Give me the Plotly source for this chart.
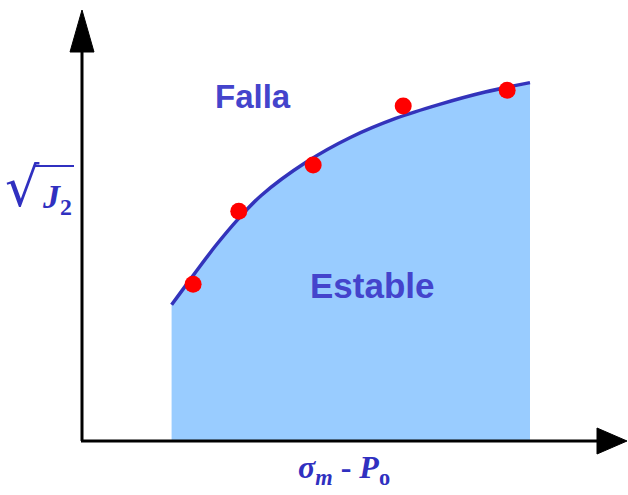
import plotly.graph_objects as go

# Failure envelope: sqrt(J2) against effective mean stress (sigma_m - Po)
envelope_x = [2.0, 2.5, 3.0, 3.5, 4.0, 5.0, 6.0, 7.0, 8.0, 9.0, 10.0]
envelope_y = [3.04, 3.72, 4.38, 4.97, 5.48, 6.22, 6.78, 7.20, 7.52, 7.79, 8.00]

# Measured test points
test_x = [2.48, 3.50, 5.16, 7.17, 9.49]
test_y = [3.50, 5.13, 6.16, 7.48, 7.83]

W, H = 628, 495
# Pixel position of the origin and pixels per data unit
ORIGIN_PX, ORIGIN_PY, SCALE = 82, 441, 44.8

x_range = [-ORIGIN_PX / SCALE, (W - ORIGIN_PX) / SCALE]
y_range = [-(H - ORIGIN_PY) / SCALE, ORIGIN_PY / SCALE]


def px(v):
    return v / W


def py(v):
    return 1 - v / H


LABEL_BLUE = "#4444CC"
MATH_BLUE = "#3030C0"

fig = go.Figure()

fig.add_trace(go.Scatter(
    x=envelope_x, y=envelope_y,
    mode="lines",
    line=dict(color="#3333BB", width=3.5, shape="spline", smoothing=1.0),
    fill="tozeroy",
    fillcolor="#99CCFF",
    hoverinfo="skip",
    showlegend=False,
))

fig.add_trace(go.Scatter(
    x=test_x, y=test_y,
    mode="markers",
    marker=dict(color="#FF0000", size=17, line=dict(width=0)),
    showlegend=False,
))

shapes = [
    # axis lines
    dict(type="line", xref="paper", yref="paper",
         x0=px(ORIGIN_PX), y0=py(ORIGIN_PY), x1=px(ORIGIN_PX), y1=py(48),
         line=dict(color="black", width=3)),
    dict(type="line", xref="paper", yref="paper",
         x0=px(ORIGIN_PX - 1), y0=py(ORIGIN_PY), x1=px(600), y1=py(ORIGIN_PY),
         line=dict(color="black", width=3)),
    # arrow heads
    dict(type="path", xref="paper", yref="paper",
         path=f"M {px(ORIGIN_PX)} {py(10)} L {px(ORIGIN_PX - 12)} {py(52)} "
              f"L {px(ORIGIN_PX + 12)} {py(52)} Z",
         fillcolor="black", line=dict(color="black", width=1)),
    dict(type="path", xref="paper", yref="paper",
         path=f"M {px(627)} {py(ORIGIN_PY)} L {px(597)} {py(ORIGIN_PY - 13)} "
              f"L {px(597)} {py(ORIGIN_PY + 13)} Z",
         fillcolor="black", line=dict(color="black", width=1)),
    # vinculum of the square root
    dict(type="line", xref="paper", yref="paper",
         x0=px(34), y0=py(166), x1=px(74), y1=py(166),
         line=dict(color=MATH_BLUE, width=2)),
]

annotations = [
    dict(text="<b>Falla</b>", x=px(253), y=py(96), xref="paper", yref="paper",
         showarrow=False, xanchor="center", yanchor="middle",
         font=dict(family="Liberation Sans, Arial", size=33, color=LABEL_BLUE)),
    dict(text="<b>Estable</b>", x=px(372), y=py(285), xref="paper", yref="paper",
         showarrow=False, xanchor="center", yanchor="middle",
         font=dict(family="Liberation Sans, Arial", size=35, color=LABEL_BLUE)),
    dict(text="√", x=px(22), y=py(187), xref="paper", yref="paper",
         showarrow=False, xanchor="center", yanchor="middle",
         font=dict(family="DejaVu Serif", size=54, color=MATH_BLUE)),
    dict(text="<b><i>J</i></b><sub><b>2</b></sub>", x=px(57), y=py(199),
         xref="paper", yref="paper",
         showarrow=False, xanchor="center", yanchor="middle",
         font=dict(family="Liberation Serif, Times New Roman", size=34, color=MATH_BLUE)),
    dict(text="<b><i>σ</i></b><sub><b><i>m</i></b></sub><b> - </b><b><i>P</i></b><sub><b>o</b></sub>",
         x=px(344), y=py(469), xref="paper", yref="paper",
         showarrow=False, xanchor="center", yanchor="middle",
         font=dict(family="Liberation Serif, Times New Roman", size=32, color=MATH_BLUE)),
]

fig.update_layout(
    width=W, height=H,
    margin=dict(l=0, r=0, t=0, b=0),
    paper_bgcolor="white", plot_bgcolor="white",
    xaxis=dict(range=x_range, visible=False, fixedrange=True),
    yaxis=dict(range=y_range, visible=False, fixedrange=True),
    shapes=shapes,
    annotations=annotations,
    showlegend=False,
)

fig.write_html("out.html")
